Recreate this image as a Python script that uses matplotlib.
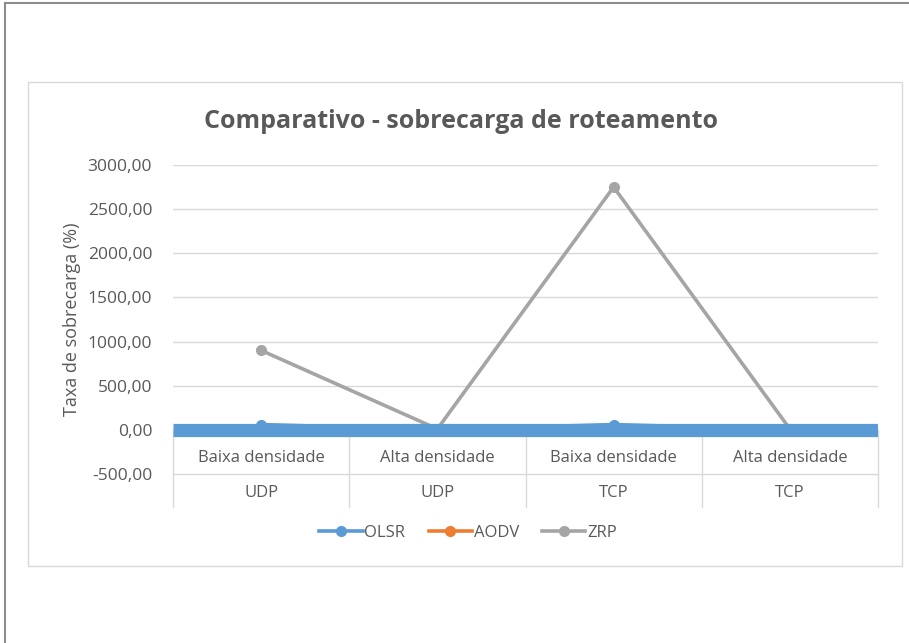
import matplotlib

matplotlib.use("Agg")
import matplotlib.pyplot as plt
from matplotlib.lines import Line2D
from matplotlib.patches import Rectangle

plt.rcParams["font.family"] = ["Open Sans", "DejaVu Sans"]

# dados do gráfico
densidades = ["Baixa densidade", "Alta densidade", "Baixa densidade", "Alta densidade"]
protocolos = ["UDP", "UDP", "TCP", "TCP"]
olsr = [60, 5, 60, 5]
aodv = [10, -10, 10, -10]
zrp = [900, 10, 2750, 10]
y_ticks = [-500, 0, 500, 1000, 1500, 2000, 2500, 3000]

AZUL = "#5B9BD5"
LARANJA = "#ED7D31"
CINZA = "#A5A5A5"
GRADE = "#D9D9D9"
TEXTO = "#595959"

fig = plt.figure(figsize=(9.09, 6.43), dpi=100)

# moldura externa (captura de tela)
fig.add_artist(Line2D([0.0055, 0.0055], [0, 0.996], transform=fig.transFigure,
                      color="#8c8c8c", lw=1.5))
fig.add_artist(Line2D([0.0055, 1], [0.996, 0.996], transform=fig.transFigure,
                      color="#8c8c8c", lw=1.5))
# borda da área do gráfico
fig.add_artist(Rectangle((28 / 909, 1 - 566 / 643), 874 / 909, 484 / 643,
                         transform=fig.transFigure, fill=False,
                         edgecolor=GRADE, lw=1))

ax = fig.add_axes([173 / 909, 1 - 474 / 643, 705 / 909, 309 / 643])
x = list(range(len(densidades)))

ax.plot(x, olsr, color=AZUL, lw=2.6, marker="o", ms=7, zorder=3)
ax.plot(x, aodv, color=LARANJA, lw=2.6, marker="o", ms=7, zorder=3)
ax.plot(x, zrp, color=CINZA, lw=2.6, marker="o", ms=7, zorder=3)

# eixo horizontal grosso em azul
ax.axhline(0, color=AZUL, lw=9.5, zorder=4, solid_capstyle="butt")

ax.set_xlim(-0.5, len(x) - 0.5)
ax.set_ylim(-500, 3000)
ax.set_yticks(y_ticks)
ax.set_yticklabels([f"{v:.2f}".replace(".", ",") for v in y_ticks])
ax.tick_params(axis="y", length=0, labelsize=12.5, labelcolor=TEXTO, pad=15)
ax.set_xticks([])
for s in ax.spines.values():
    s.set_visible(False)
for v in y_ticks[2:]:
    ax.axhline(v, color=GRADE, lw=1, zorder=1)

# tabela de categorias
trans = ax.get_xaxis_transform()
y0 = 500 / 3500
for i in range(len(x) + 1):
    ax.plot([i - 0.5, i - 0.5], [-0.107, y0], transform=trans,
            color=GRADE, lw=1, clip_on=False, zorder=1)
ax.plot([-0.5, len(x) - 0.5], [0, 0], transform=trans, color=GRADE, lw=1, clip_on=False)
for i, (d, p) in enumerate(zip(densidades, protocolos)):
    ax.text(i, -320, d, ha="center", va="center", fontsize=12, color=TEXTO)
    ax.text(i, -0.062, p, transform=trans, ha="center", va="center",
            fontsize=12, color=TEXTO, clip_on=False)

ax.set_ylabel("Taxa de sobrecarga (%)", fontsize=13, color=TEXTO)
ax.yaxis.set_label_coords(-0.13, 0.50)

fig.text(461 / 909, 1 - 122 / 643, "Comparativo - sobrecarga de roteamento",
         ha="center", va="center", fontsize=18, fontweight="bold", color=TEXTO)

handles = [
    Line2D([], [], color=AZUL, lw=2.6, marker="o", ms=7),
    Line2D([], [], color=LARANJA, lw=2.6, marker="o", ms=7),
    Line2D([], [], color=CINZA, lw=2.6, marker="o", ms=7),
]
fig.legend(handles, ["OLSR", "AODV", "ZRP"], loc="center",
           bbox_to_anchor=(468 / 909, 1 - 533 / 643), ncol=3, frameon=False,
           fontsize=12, labelcolor=TEXTO, handlelength=2.6, handletextpad=0.1,
           columnspacing=1.4)

fig.savefig("out.png", dpi=100)
plt.close(fig)
